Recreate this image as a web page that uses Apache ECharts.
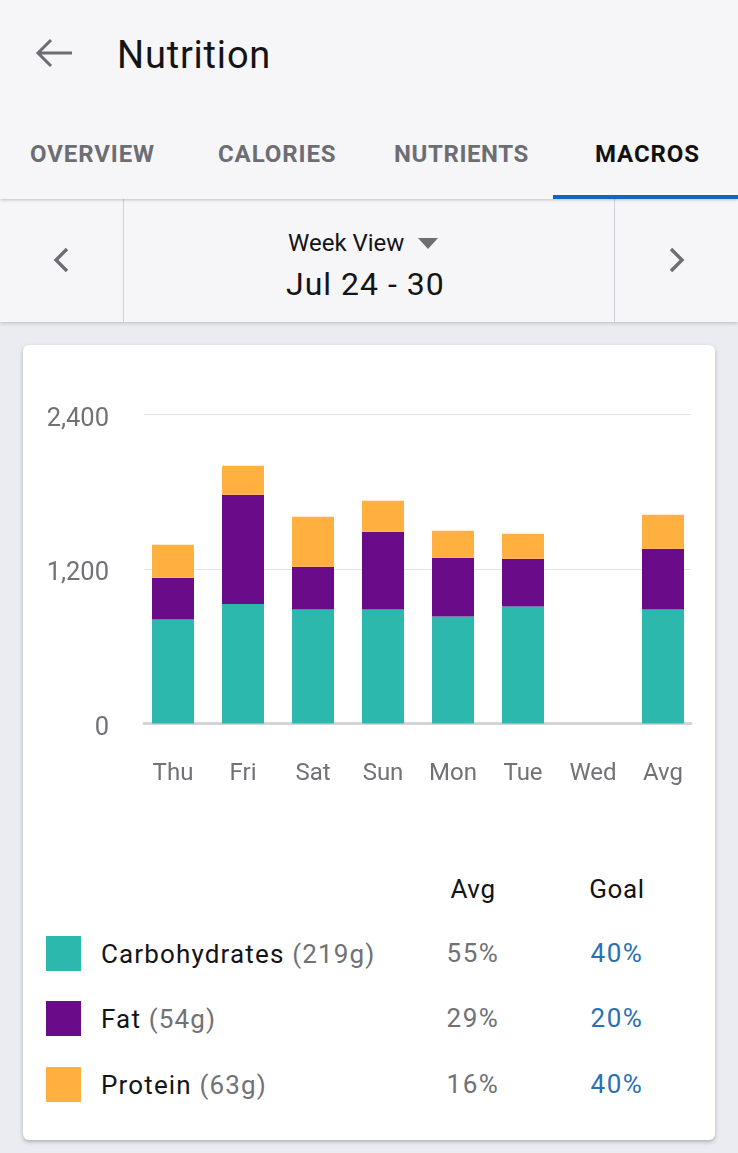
<!DOCTYPE html>
<html>
<head>
<meta charset="utf-8">
<title>Nutrition</title>
<script src="https://cdn.jsdelivr.net/npm/echarts@6/dist/echarts.min.js"></script>
<style>
  html, body { margin: 0; padding: 0; }
  body { width: 738px; height: 1153px; position: relative; overflow: hidden; background: #ebecf1;
         font-family: Roboto, sans-serif; color: #141416; }
  .abs { position: absolute; white-space: nowrap; line-height: 1; }
  #top { position: absolute; left: 0; top: 0; width: 738px; height: 199px; background: #f6f6f9; box-shadow: 0 1px 3px rgba(0,0,0,.22); z-index: 2; }
  #sub { position: absolute; left: 0; top: 199px; width: 738px; height: 123px; background: #f6f6f9; box-shadow: 0 1px 4px rgba(0,0,0,.22); z-index: 1; }
  .divider { position: absolute; top: 0; width: 1px; height: 123px; background: #cfd0d4; }
  .tab { font-size: 24px; font-weight: 700; color: #6d6e73; top: 142px; letter-spacing: .9px; }
  #card { position: absolute; left: 23px; top: 345px; width: 692px; height: 795px; background: #fff; border-radius: 6px; box-shadow: 0 2px 4px rgba(0,0,0,.25); }
  #chart { position: absolute; left: 0; top: 0; width: 692px; height: 480px; }
  .swatch { position: absolute; left: 23px; width: 35px; height: 35px; }
  .cell { font-size: 26px; letter-spacing: 1.15px; }
  .head { letter-spacing: .6px; }
  .pct { letter-spacing: 1.5px; }
  .muted { color: #717176; }
  .goal { color: #2a70b4; }
  .center { transform: translateX(-50%); }
</style>
</head>
<body>
<div id="top">
  <svg class="abs" style="left:35px;top:38px" width="38" height="30" viewBox="0 0 38 30" fill="none" stroke="#6d6e73" stroke-width="3"><path d="M37 15H3M16 2L3 15l13 13"/></svg>
  <div class="abs" style="left:117px;top:36px;font-size:38px;letter-spacing:.8px">Nutrition</div>
  <div class="abs tab" style="left:30px">OVERVIEW</div>
  <div class="abs tab" style="left:218px">CALORIES</div>
  <div class="abs tab" style="left:394px;letter-spacing:.6px">NUTRIENTS</div>
  <div class="abs tab" style="left:595px;color:#111">MACROS</div>
  <div class="abs" style="left:553px;top:195px;width:185px;height:4px;background:#1565c0"></div>
</div>
<div id="sub">
  <div class="divider" style="left:123px"></div>
  <div class="divider" style="left:614px"></div>
  <svg class="abs" style="left:52px;top:48px" width="18" height="26" viewBox="0 0 18 26" fill="none" stroke="#6d6e73" stroke-width="3.4"><path d="M15 2L4 13l11 11"/></svg>
  <svg class="abs" style="left:668px;top:48px" width="18" height="26" viewBox="0 0 18 26" fill="none" stroke="#6d6e73" stroke-width="3.4"><path d="M3 2l11 11L3 24"/></svg>
  <div class="abs" style="left:288px;top:32px;font-size:24px">Week View</div>
  <svg class="abs" style="left:418px;top:39px" width="20" height="11" viewBox="0 0 20 11"><path d="M0 0h20L10 11z" fill="#6d6e73"/></svg>
  <div class="abs" style="left:286px;top:69px;font-size:32px;letter-spacing:1px">Jul 24 - 30</div>
</div>
<div id="card">
  <div id="chart"></div>
  <div id="table"></div>
</div>
<script>
// week of Jul 24 - 30, calories per macro
var categories = ['Thu', 'Fri', 'Sat', 'Sun', 'Mon', 'Tue', 'Wed', 'Avg'];
var carbs = [808, 928, 885, 885, 831, 909, 0, 885];
var fat = [324, 849, 332, 604, 456, 371, 0, 472];
var protein = [256, 225, 388, 241, 210, 194, 0, 264];
var yTicks = [0, 1200, 2400];

var macroNames = ['Carbohydrates', 'Fat', 'Protein'];
var macroGrams = ['(219g)', '(54g)', '(63g)'];
var macroAvg = ['55%', '29%', '16%'];
var macroGoal = ['40%', '20%', '40%'];
var macroColors = ['#2db8ae', '#6a0c8a', '#ffb03f'];

var chart = echarts.init(document.getElementById('chart'));

function barSeries(name, values, color) {
  return {
    name: name,
    type: 'bar',
    stack: 'macros',
    xAxisIndex: 1,
    yAxisIndex: 1,
    barWidth: 42,
    itemStyle: { color: color },
    data: values
  };
}

var option = {
  animation: false,
  textStyle: { fontFamily: 'Roboto' },
  // first grid only carries the lines, they are a bit shorter than the row of bars
  grid: [
    { left: 121, top: 69.5, width: 547, height: 309 },
    { left: 115, top: 69.5, width: 560, height: 309 }
  ],
  xAxis: [
    {
      gridIndex: 0,
      type: 'category',
      data: categories,
      axisLine: { lineStyle: { color: '#d5d5d9', width: 3 } },
      axisTick: { show: false },
      axisLabel: { show: false }
    },
    {
      gridIndex: 1,
      type: 'category',
      data: categories,
      axisLine: { show: false },
      axisTick: { show: false },
      axisLabel: { color: '#717176', fontSize: 24, margin: 38 }
    }
  ],
  yAxis: [
    {
      gridIndex: 0,
      type: 'value',
      min: yTicks[0],
      max: yTicks[2],
      interval: yTicks[1],
      axisLine: { show: false },
      axisTick: { show: false },
      splitLine: { lineStyle: { color: '#e6e6ea', width: 1 } },
      axisLabel: {
        color: '#717176',
        fontSize: 25.5,
        margin: 35,
        verticalAlign: 'top',
        lineHeight: 10,
        formatter: function (v) { return v.toLocaleString('en-US'); }
      }
    },
    {
      gridIndex: 1,
      type: 'value',
      min: yTicks[0],
      max: yTicks[2],
      interval: yTicks[1],
      show: false
    }
  ],
  series: [
    barSeries(macroNames[0], carbs, macroColors[0]),
    barSeries(macroNames[1], fat, macroColors[1]),
    barSeries(macroNames[2], protein, macroColors[2])
  ]
};
chart.setOption(option);

// table under the chart
var table = document.getElementById('table');
var html = '<div class="abs cell head center" style="left:450px;top:531px">Avg</div>'
  + '<div class="abs cell head center" style="left:594px;top:531px">Goal</div>';
var rowTops = [596, 661, 727];
var swatchTops = [591, 656, 722];
macroNames.forEach(function (name, i) {
  html += '<div class="swatch" style="top:' + swatchTops[i] + 'px;background:' + macroColors[i] + '"></div>'
    + '<div class="abs cell" style="left:78px;top:' + rowTops[i] + 'px">' + name + ' <span class="muted">' + macroGrams[i] + '</span></div>'
    + '<div class="abs cell pct muted center" style="left:450px;top:' + (rowTops[i] - 1) + 'px">' + macroAvg[i] + '</div>'
    + '<div class="abs cell pct goal center" style="left:594px;top:' + (rowTops[i] - 1) + 'px">' + macroGoal[i] + '</div>';
});
table.innerHTML = html;
</script>
</body>
</html>
